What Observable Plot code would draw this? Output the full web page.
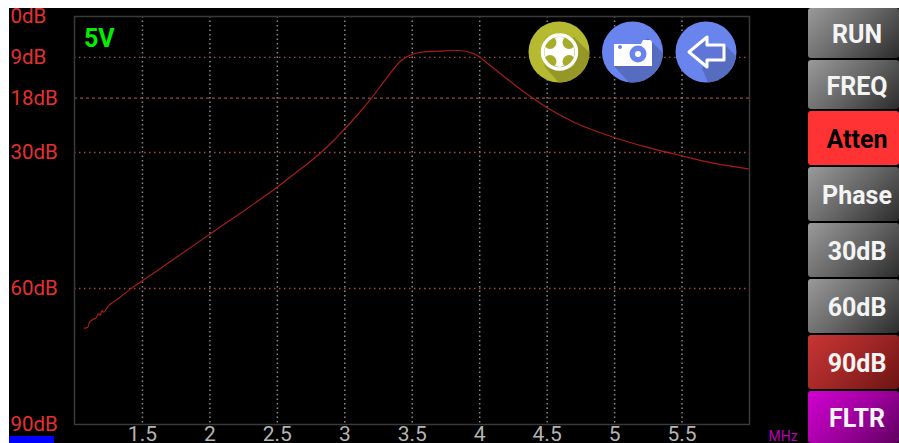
<!DOCTYPE html>
<html><head><meta charset="utf-8">
<script src="https://cdn.jsdelivr.net/npm/d3@7"></script>
<script src="https://cdn.jsdelivr.net/npm/@observablehq/plot@0.6"></script>
<style>
html,body{margin:0;padding:0;background:#fff;overflow:hidden}
#stage{position:absolute;left:0;top:0;width:899px;height:443px}
#bg{position:absolute;left:9px;top:8px;width:890px;height:435px;background:#000}
#chart{position:absolute;left:0;top:0}
.btn{position:absolute;left:808px;width:91px;display:flex;align-items:center;justify-content:center;font:700 25px Roboto,sans-serif;color:#f4f4f4;border-radius:3px;box-sizing:border-box;padding-top:3px;padding-left:7px;
background:linear-gradient(135deg,#9a9a9a 0%,#666 50%,#2c2c2c 100%)}
#icons{position:absolute;left:0;top:0}
</style></head><body>
<div id="stage"><div id="bg"></div><div id="chart"></div><svg id="icons" width="899" height="443"></svg></div>
<script>
const freqMHz=[1.07,1.095,1.107,1.132,1.157,1.174,1.189,1.199,1.213,1.243,1.317,1.404,1.428,1.502,1.613,1.707,1.996,2.201,2.498,2.658,2.744,2.826,2.917,2.967,3.09,3.201,3.313,3.411,3.455,3.498,3.584,3.707,3.831,3.905,3.991,4.041,4.201,4.387,4.498,4.695,4.991,5.239,5.485,5.732,5.991];
const attenDb=[68.76,68.54,67.44,66.84,66.47,65.58,65.96,64.86,65.23,63.98,62.3,60.3,59.75,58.24,56.03,54.05,48.09,43.9,37.66,33.97,31.99,29.94,27.35,25.8,21.84,17.87,13.46,9.93,8.93,8.38,7.79,7.65,7.5,7.72,8.76,9.93,13.74,17.87,20.07,23.27,26.63,28.83,30.66,32.36,33.6];
const xTicks=[1.5,2,2.5,3,3.5,4,4.5,5,5.5];
const yTicks=[0,9,18,30,60,90];
const dottedDb=[9,30,60];
const dashedDb=[18];
const buttons=[
 {label:"RUN",top:8,h:50},{label:"FREQ",top:60,h:49},
 {label:"Atten",top:111,h:54,bg:"#ff3333",color:"#000"},
 {label:"Phase",top:167,h:54},{label:"30dB",top:223,h:54},{label:"60dB",top:279,h:54},
 {label:"90dB",top:335,h:54,bg:"linear-gradient(135deg,#c83535 0%,#a02626 50%,#6c1414 100%)"},
 {label:"FLTR",top:391,h:52,bg:"linear-gradient(135deg,#d000d0 0%,#a000a0 50%,#600060 100%)"}];
const trace=freqMHz.map((f,i)=>({f,db:attenDb[i]}));

const chart=Plot.plot({
 width:899,height:443,marginLeft:74,marginRight:150,marginTop:16,marginBottom:19,
 style:{background:"transparent",overflow:"visible"},
 x:{domain:[1,6],range:[74.5,749]},
 y:{domain:[90,0],range:[424,16]},
 marks:[
  Plot.ruleX(xTicks,{stroke:"#8a8a8a",strokeWidth:1.5,strokeDasharray:"1.5 3"}),
  Plot.ruleY(dottedDb,{stroke:"#a84848",strokeWidth:1.3,strokeDasharray:"1.5 3.5"}),
  Plot.ruleY(dashedDb,{stroke:"#b06060",strokeWidth:1,strokeDasharray:"3 3"}),
  Plot.frame({stroke:"#3a3a3a",strokeWidth:1.5}),
  Plot.line(trace,{x:"f",y:"db",stroke:"#a81c1c",strokeWidth:1.2,curve:"monotone-x"}),
  Plot.axisX({ticks:xTicks,tickSize:0,tickPadding:0,tickFormat:d=>String(d),anchor:"bottom",
    fill:"#b4b4b4",fontSize:21,fontFamily:"Roboto",lineAnchor:"middle",dy:10,label:null}),
  Plot.axisY({ticks:yTicks,tickSize:0,tickPadding:0,tickFormat:d=>d+"dB",anchor:"left",
    fill:"#e53030",fontSize:20.5,fontFamily:"Roboto",textAnchor:"start",dx:-64,label:null}),
  Plot.text(["5V"],{x:1,y:0,dx:9,dy:22,text:d=>d,fill:"#00f000",fontSize:25,fontWeight:"bold",fontFamily:"Roboto",textAnchor:"start"}),
  Plot.text(["MHz"],{x:6,y:90,dx:19,dy:12,text:d=>d,fill:"#b800b8",fontSize:14,fontFamily:"Roboto",textAnchor:"start"})
 ]
});
document.getElementById("chart").appendChild(chart);

const stage=document.getElementById("stage");
const marker=document.createElement("div");
marker.style.cssText="position:absolute;left:9px;top:436px;width:45px;height:7px;background:#0000ff";
stage.appendChild(marker);
for(const b of buttons){
 const d=document.createElement("div");
 d.className="btn";d.textContent=b.label;
 d.style.top=b.top+"px";d.style.height=b.h+"px";
 if(b.bg)d.style.background=b.bg;
 if(b.color)d.style.color=b.color;
 stage.appendChild(d);
}
const svg=document.getElementById("icons");
const defs=`<defs>
<clipPath id="c1"><circle cx="559" cy="52" r="30.5"/></clipPath>
<clipPath id="c2"><circle cx="632.5" cy="52" r="30.5"/></clipPath>
<clipPath id="c3"><circle cx="706" cy="52" r="30.5"/></clipPath></defs>`;
const i1=`<circle cx="559" cy="52" r="30.5" fill="#b5ba30"/>
<polygon clip-path="url(#c1)" points="574,37 605,68 605,95 570,95 544,66" fill="#959826"/>
<circle cx="559.5" cy="52" r="15" fill="#fff"/>
<circle cx="550" cy="42.5" r="6.5" fill="#a8ac2c"/><circle cx="569" cy="42.5" r="6.5" fill="#a8ac2c"/>
<circle cx="550" cy="61.5" r="6.5" fill="#a8ac2c"/><circle cx="569" cy="61.5" r="6.5" fill="#a8ac2c"/>
<circle cx="559.5" cy="52" r="17" fill="none" stroke="#fff" stroke-width="3.5"/>`;
const i2=`<circle cx="632.5" cy="52" r="30.5" fill="#6a84ee"/>
<polygon clip-path="url(#c2)" points="648,38 680,70 680,95 640,95 614,66" fill="#566cc0"/>
<path d="M614 44 H641 L643 40 H649 Q652 40 652 43 V66 H614Z" fill="#fff"/>
<circle cx="638" cy="54" r="8.5" fill="#6a84ee"/><circle cx="638" cy="54" r="3" fill="#fff"/>
<circle cx="620" cy="47" r="2" fill="#6a84ee"/>`;
const i3=`<circle cx="706" cy="52" r="30.5" fill="#6a84ee"/>
<polygon clip-path="url(#c3)" points="722,42 755,75 755,100 715,100 702,68" fill="#566cc0"/>
<path d="M689 52 L707 37 V45 H724 V60 H707 V67Z" fill="#5f76d6" stroke="#fff" stroke-width="3" stroke-linejoin="round"/>`;
svg.innerHTML=defs+i1+i2+i3;
</script>
</body></html>
